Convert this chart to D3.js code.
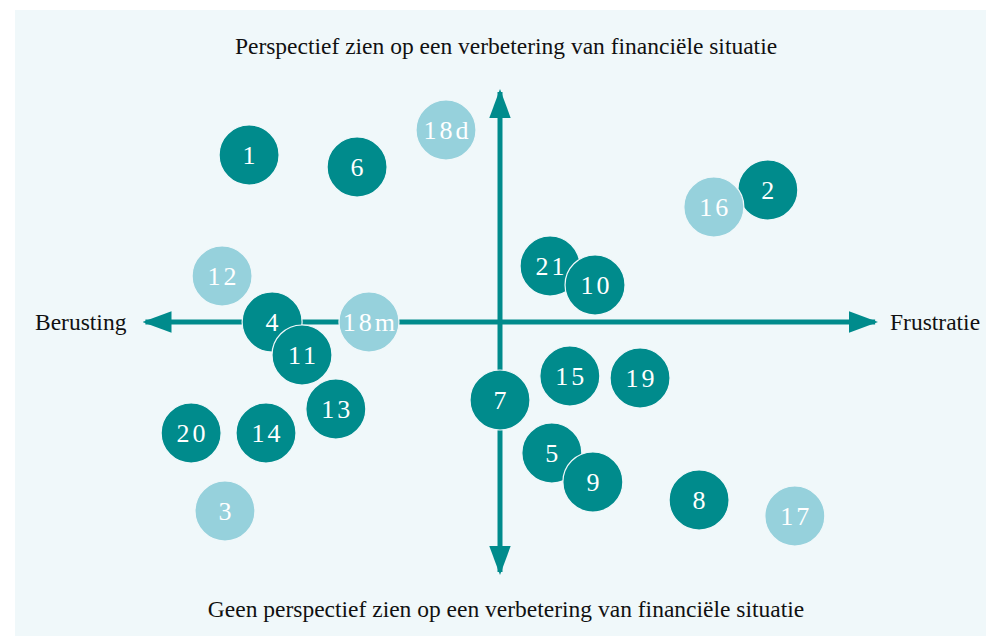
<!DOCTYPE html>
<html>
<head>
<meta charset="utf-8">
<script src="https://cdn.jsdelivr.net/npm/d3@7"></script>
<style>
  body { margin: 0; background: #fff; }
  text { font-family: "Liberation Serif", "DejaVu Serif", serif; }
</style>
</head>
<body>
<script>
const width = 986;
const height = 638;

// labels, positions (x: berusting -> frustratie, y: geen -> wel perspectief), and kind
const labels = ['1', '6', '18d', '2', '16', '12', '21', '10', '4', '11', '18m', '15', '19', '7', '13', '20', '14', '5', '9', '8', '17', '3'];
const xs = [-6.97, -3.97, -1.5, 7.44, 5.94, -7.72, 1.39, 2.64, -6.33, -5.5, -3.64, 1.94, 3.89, 0, -4.56, -8.58, -6.5, 1.44, 2.58, 5.53, 8.19, -7.64];
const ys = [6.68, 6.2, 7.68, 5.28, 4.6, 1.84, 2.24, 1.48, 0, -1.32, 0, -2.16, -2.24, -3.12, -3.48, -4.44, -4.44, -5.24, -6.4, -7.12, -7.76, -7.56];
const light = ['18d', '16', '12', '18m', '17', '3'];

const axisTitles = {
  top: 'Perspectief zien op een verbetering van financiële situatie',
  bottom: 'Geen perspectief zien op een verbetering van financiële situatie',
  left: 'Berusting',
  right: 'Frustratie'
};

const dark = '#008b8c';
const pale = '#96d1dc';
const bg = '#f0f8fa';

const x = d3.scaleLinear().domain([-10, 10]).range([140, 860]);
const y = d3.scaleLinear().domain([-10, 10]).range([572, 72]);

const svg = d3.select('body').append('svg')
  .attr('width', width)
  .attr('height', height);

svg.append('rect')
  .attr('x', 15).attr('y', 10)
  .attr('width', 971).attr('height', 626)
  .attr('fill', bg);

const defs = svg.append('defs');
defs.append('marker')
  .attr('id', 'arrow')
  .attr('viewBox', '0 0 10 10')
  .attr('refX', 9).attr('refY', 5)
  .attr('markerWidth', 5.8).attr('markerHeight', 4.3)
  .attr('markerUnits', 'strokeWidth')
  .attr('orient', 'auto-start-reverse')
  .attr('preserveAspectRatio', 'none')
  .append('path')
  .attr('d', 'M0,0 L10,5 L0,10 Z')
  .attr('fill', dark);

// axes
svg.append('line')
  .attr('x1', x(-9.85)).attr('x2', x(10.42))
  .attr('y1', y(0)).attr('y2', y(0))
  .attr('stroke', dark).attr('stroke-width', 5)
  .attr('marker-start', 'url(#arrow)')
  .attr('marker-end', 'url(#arrow)');

svg.append('line')
  .attr('x1', x(0)).attr('x2', x(0))
  .attr('y1', y(-10)).attr('y2', y(9.2))
  .attr('stroke', dark).attr('stroke-width', 5)
  .attr('marker-start', 'url(#arrow)')
  .attr('marker-end', 'url(#arrow)');

// axis titles
const titleSize = 23.5;
svg.append('text').attr('x', 506).attr('y', 54)
  .attr('text-anchor', 'middle').attr('font-size', titleSize).attr('fill', '#111')
  .text(axisTitles.top);
svg.append('text').attr('x', 506).attr('y', 617)
  .attr('text-anchor', 'middle').attr('font-size', titleSize).attr('fill', '#111')
  .text(axisTitles.bottom);
svg.append('text').attr('x', 35).attr('y', 330)
  .attr('font-size', titleSize).attr('fill', '#111')
  .text(axisTitles.left);
svg.append('text').attr('x', 890).attr('y', 330)
  .attr('font-size', titleSize).attr('fill', '#111')
  .text(axisTitles.right);

// bubbles
const nodes = svg.selectAll('g.bubble')
  .data(labels)
  .enter()
  .append('g')
  .attr('class', 'bubble')
  .attr('transform', (d, i) => `translate(${x(xs[i])},${y(ys[i])})`);

nodes.append('circle')
  .attr('r', 30)
  .attr('fill', d => light.includes(d) ? pale : dark)
  .attr('stroke', bg)
  .attr('stroke-width', 1.2);

nodes.append('text')
  .attr('text-anchor', 'middle')
  .attr('dx', d => d.length > 1 ? 1.5 : 0)
  .attr('dy', '0.35em')
  .attr('font-size', 26)
  .attr('letter-spacing', d => d.length > 1 ? 3 : 0)
  .attr('fill', '#fff')
  .text(d => d);
</script>
</body>
</html>
